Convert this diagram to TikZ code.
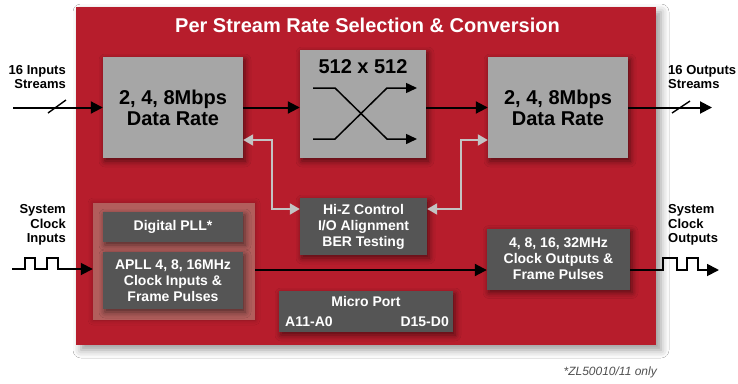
\documentclass[tikz,border=0pt]{standalone}
\usepackage{fontspec}
\setmainfont{Liberation Sans}
\usetikzlibrary{arrows.meta,shadows.blur}
\definecolor{chipred}{RGB}{183,29,44}
\definecolor{lgray}{RGB}{166,166,166}
\definecolor{dgray}{RGB}{85,85,85}
\definecolor{frameC}{RGB}{178,94,92}
\definecolor{arrgray}{RGB}{195,195,195}
\definecolor{notegray}{RGB}{80,80,80}
\begin{document}
\begin{tikzpicture}[x=1pt,y=-1pt,
  shad/.style={blur shadow={shadow xshift=2pt,shadow yshift=-3pt,shadow blur radius=6pt,shadow opacity=55}},
  lbox/.style={rectangle, fill=lgray, inner sep=0pt, align=center, text=black,
    font=\fontsize{20}{21}\selectfont\bfseries, shad},
  dbox/.style={rectangle, fill=dgray, inner sep=0pt, align=center, text=white,
    font=\fontsize{14}{16}\selectfont\bfseries, shad},
  lab/.style={font=\fontsize{13}{14.5}\selectfont\bfseries, inner sep=0pt},
  blk/.style={line width=2pt, -{Triangle[length=12pt,width=12pt]}},
  gar/.style={draw=arrgray, line width=2pt, {Triangle[length=10pt,width=11pt]}-{Triangle[length=10pt,width=11pt]}},
  wav/.style={line width=1.8pt, -{Triangle[length=12pt,width=12pt]}},
]
\useasboundingbox (0,0) rectangle (738,383);
\fill[white] (0,0) rectangle (738,383);

% chip body
\node[rectangle, fill=chipred, inner sep=0pt, minimum width=580pt, minimum height=338pt,
  blur shadow={shadow xshift=5pt,shadow yshift=-5pt,shadow blur radius=8pt,shadow opacity=40}]
  (chip) at (366,176) {};
\node[text=white, font=\fontsize{20}{22}\selectfont\bfseries, inner sep=0pt] (title) at (367.5,25)
  {Per Stream Rate Selection \& Conversion};

% data path boxes
\node[lbox, minimum width=140pt, minimum height=101pt] (inL) at (173,107.5) {2, 4, 8Mbps\\Data Rate};
\node[lbox, minimum width=126pt, minimum height=108pt] (xbar) at (363,104) {};
\node[font=\fontsize{20}{21}\selectfont\bfseries, inner sep=0pt] (xbarT) at (363,67) {512 x 512};
\node[lbox, minimum width=140pt, minimum height=101pt] (outR) at (558,107.5) {2, 4, 8Mbps\\Data Rate};

% crossbar symbol
\draw[line width=1.5pt, -{Triangle[length=11pt,width=10pt]}] (313,88) -- (335,88) -- (387,139) -- (417,139);
\draw[line width=1.5pt, -{Triangle[length=11pt,width=10pt]}] (313,139) -- (335,139) -- (387,88) -- (417,88);

% control block
\node[dbox, minimum width=127pt, minimum height=57pt] (hiz) at (363.5,226.5) {Hi-Z Control\\I/O Alignment\\BER Testing};

% PLL group
\node[rectangle, fill=frameC, inner sep=0pt, minimum width=162pt, minimum height=117pt,
  blur shadow={shadow xshift=0pt,shadow yshift=0pt,shadow blur radius=5pt,shadow opacity=25}] (pllframe) at (174,261.5) {};
\node[dbox, minimum width=140pt, minimum height=30pt] (dpll) at (173,227) {Digital PLL*};
\node[dbox, minimum width=140pt, minimum height=57pt] (apll) at (173,280.5) {APLL 4, 8, 16MHz\\Clock Inputs \&\\Frame Pulses};

\node[dbox, minimum width=143pt, minimum height=61pt] (clkout) at (558.5,259) {4, 8, 16, 32MHz\\Clock Outputs \&\\Frame Pulses};

\node[dbox, minimum width=174pt, minimum height=41pt] (micro) at (366,311.5) {};
\node[text=white, font=\fontsize{14}{16}\selectfont\bfseries, inner sep=0pt] (microT) at (366,301) {Micro Port};
\node[text=white, font=\fontsize{14}{16}\selectfont\bfseries, inner sep=0pt, anchor=west] (addr) at (285,322) {A11-A0};
\node[text=white, font=\fontsize{14}{16}\selectfont\bfseries, inner sep=0pt, anchor=east] (data) at (449,322) {D15-D0};

% external labels
\node[lab, align=right, anchor=east] (inLab) at (66,77) {16 Inputs\\Streams};
\node[lab, align=left, anchor=west] (outLab) at (668,77) {16 Outputs\\Streams};
\node[lab, align=right, anchor=east] (sciLab) at (66,225) {System\\Clock\\Inputs};
\node[lab, align=left, anchor=west] (scoLab) at (668,225) {System\\Clock\\Outputs};
\node[font=\fontsize{12}{14}\selectfont\itshape, text=notegray, anchor=east, inner sep=0pt] (note) at (657,372) {*ZL50010/11 only};

% data arrows
\coordinate (inStart) at (13,107.5);
\coordinate (outEnd) at (712,107.5);
\draw[blk] (inStart) -- (inL.west);
\draw[line width=1.4pt] (48,113) -- (66,100);
\draw[blk] (inL.east) -- (inL.east -| xbar.west);
\draw[blk] (outR.west -| xbar.east) -- (outR.west);
\draw[blk] (outR.east) -- (outEnd);
\draw[line width=1.4pt] (672,113) -- (690,101);

% control arrows
\draw[gar] ([yshift=-32.5pt]inL.east) -| (272,209) -- ([yshift=17.5pt]hiz.west);
\draw[gar] ([yshift=17.5pt]hiz.east) -| (461,140) -- ([yshift=-32.5pt]outR.west);

% clock input waveform
\coordinate (ckIn) at (12,269);
\draw[wav] (ckIn) -- (25,269) -- (25,258) -- (35,258) -- (35,269) -- (47,269) -- (47,258)
  -- (58,258) -- (58,269) -- ([yshift=-7.5pt]pllframe.west);
% clock path through chip
\draw[blk] ([yshift=-8.5pt]pllframe.east) -- ([yshift=-11pt]clkout.west);
% clock output waveform
\coordinate (ckOut) at (719,270);
\draw[wav] ([yshift=-11pt]clkout.east) -- (663,270) -- (663,258) -- (677,258) -- (677,270)
  -- (687,270) -- (687,258) -- (698,258) -- (698,270) -- (ckOut);
\end{tikzpicture}
\end{document}
